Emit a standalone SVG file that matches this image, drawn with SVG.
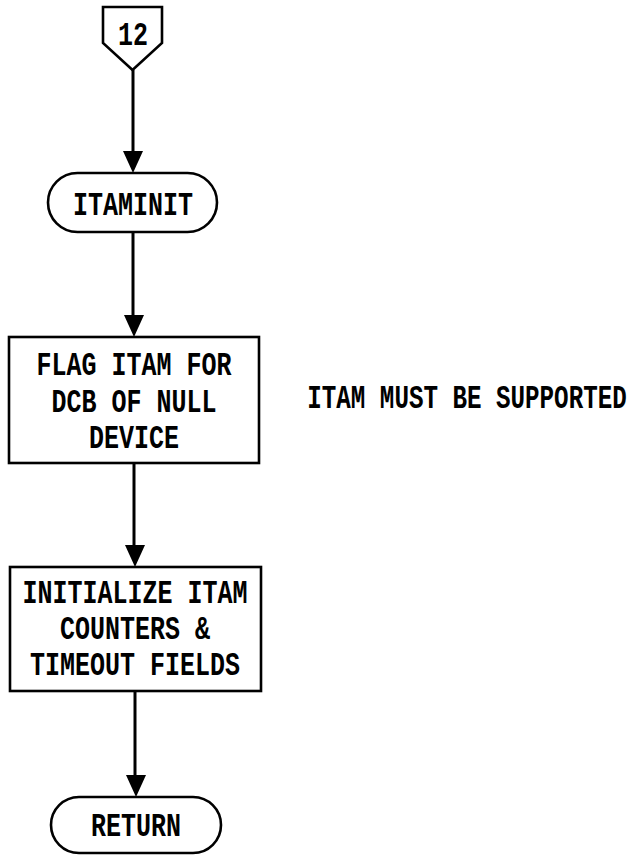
<svg xmlns="http://www.w3.org/2000/svg" width="638" height="855" viewBox="0 0 638 855">
  <style>
    .shape { fill: #fff; stroke: #000; stroke-width: 2.6; stroke-linejoin: miter; }
    .wire { fill: none; stroke: #000; stroke-width: 3; }
    .head { fill: #000; }
    .lbl { font-family: "Liberation Mono", "DejaVu Sans Mono", monospace; font-weight: bold; font-size: 25px; fill: #000; text-anchor: middle; }
    .note { font-size: 24.2px; }
  </style>
  <rect width="638" height="855" fill="#fff"/>

  <!-- flow lines with filled arrowheads -->
  <g id="connectors">
    <path class="wire" d="M133,70 V152"/>
    <path class="head" d="M123,151 L143,151 L133,173 Z"/>
    <path class="wire" d="M133,232 V316"/>
    <path class="head" d="M124,315 L144,315 L134,337 Z"/>
    <path class="wire" d="M134,463 V546"/>
    <path class="head" d="M125,545 L145,545 L135,567 Z"/>
    <path class="wire" d="M135,691 V776"/>
    <path class="head" d="M126,775 L146,775 L136,797 Z"/>
  </g>

  <!-- off-page connector; labels are stretched vertically for the tall typewriter look -->
  <g id="connector-12">
    <path class="shape" d="M103,7 H162 V43 L132.5,70 L103,43 Z"/>
    <text class="lbl" transform="translate(133,45) scale(1,1.3)">12</text>
  </g>

  <g id="itaminit">
    <rect class="shape" x="48" y="173" width="169" height="59" rx="29.5" ry="29.5"/>
    <text class="lbl" transform="translate(133,215) scale(1,1.3)">ITAMINIT</text>
  </g>

  <g id="flag-itam">
    <rect class="shape" x="9" y="337" width="250" height="126"/>
    <text class="lbl" transform="translate(134,375) scale(1,1.3)">FLAG ITAM FOR</text>
    <text class="lbl" transform="translate(134,412) scale(1,1.3)">DCB OF NULL</text>
    <text class="lbl" transform="translate(134,448) scale(1,1.3)">DEVICE</text>
  </g>

  <g id="note">
    <text class="lbl note" transform="translate(467,408) scale(1,1.34)">ITAM MUST BE SUPPORTED</text>
  </g>

  <g id="init-itam">
    <rect class="shape" x="10" y="567" width="251" height="124"/>
    <text class="lbl" transform="translate(135,603) scale(1,1.3)">INITIALIZE ITAM</text>
    <text class="lbl" transform="translate(135,639) scale(1,1.3)">COUNTERS &amp;</text>
    <text class="lbl" transform="translate(135,675) scale(1,1.3)">TIMEOUT FIELDS</text>
  </g>

  <g id="return">
    <rect class="shape" x="51" y="797" width="170" height="56" rx="28" ry="28"/>
    <text class="lbl" transform="translate(136,836) scale(1,1.3)">RETURN</text>
  </g>
</svg>
